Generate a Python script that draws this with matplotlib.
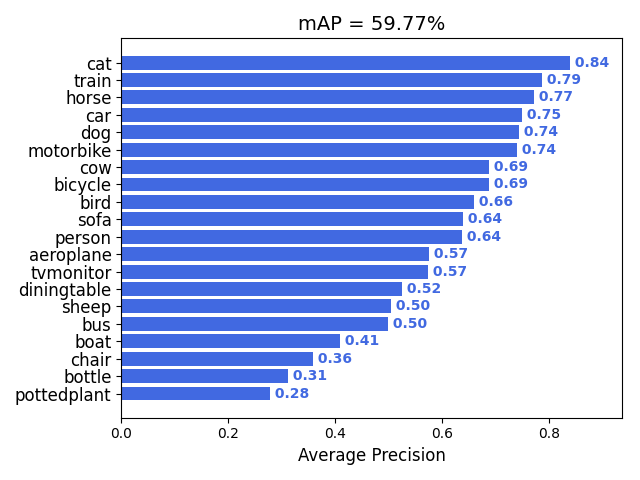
import matplotlib
matplotlib.use('Agg')
import matplotlib.pyplot as plt

# classes sorted from lowest to highest AP (bottom to top)
classes = ['pottedplant', 'bottle', 'chair', 'boat', 'bus', 'sheep', 'diningtable',
           'tvmonitor', 'aeroplane', 'person', 'sofa', 'bird', 'bicycle', 'cow',
           'motorbike', 'dog', 'car', 'horse', 'train', 'cat']
ap = [0.278, 0.312, 0.358, 0.409, 0.498, 0.504, 0.524,
      0.573, 0.575, 0.637, 0.639, 0.660, 0.687, 0.688,
      0.739, 0.743, 0.748, 0.772, 0.786, 0.838]
mAP = 59.77

fig, ax = plt.subplots(figsize=(6.4, 4.8), dpi=100)
ax.barh(range(len(classes)), ap, color='royalblue')
ax.set_yticks(range(len(classes)))
ax.set_yticklabels(classes, fontsize=12)

for i, v in enumerate(ap):
    ax.text(v, i, ' ' + '{0:.2f}'.format(v), color='royalblue', va='center',
            fontweight='bold', fontsize=10)

ax.set_xlim(0, 0.936)
ax.set_title('mAP = {0:.2f}%'.format(mAP), fontsize=14)
ax.set_xlabel('Average Precision', fontsize=12)

fig.tight_layout()
fig.subplots_adjust(right=0.972)
fig.savefig('out.png')
